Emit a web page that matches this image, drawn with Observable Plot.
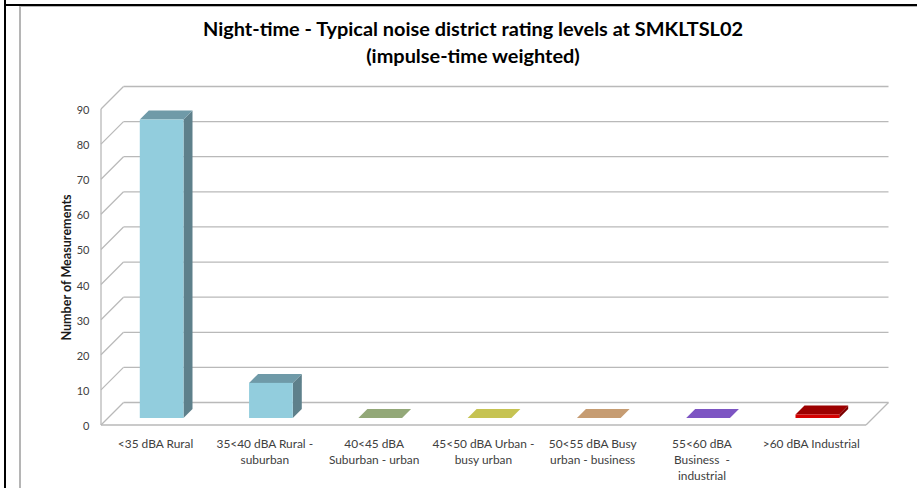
<!DOCTYPE html>
<html>
<head>
<meta charset="utf-8">
<script src="https://cdn.jsdelivr.net/npm/d3@7"></script>
<script src="https://cdn.jsdelivr.net/npm/@observablehq/plot@0.6"></script>
<style>
html,body{margin:0;padding:0;background:#fff;overflow:hidden}
#page{position:relative;width:917px;height:488px;overflow:hidden;font-family:Lato,"Open Sans",sans-serif}
.edge{position:absolute}
#title{position:absolute;left:0;top:0;width:946px;height:70px;text-align:center;font-weight:700;font-size:19.9px;line-height:27px;color:#000;padding-top:15px;box-sizing:border-box}
#chart{position:absolute;left:0;top:70px}
</style>
</head>
<body>
<div id="page">
  <div class="edge" style="left:4px;top:0;width:2px;height:488px;background:#000"></div>
  <div class="edge" style="left:4px;top:4px;width:913px;height:2px;background:#000"></div>
  <div class="edge" style="left:19px;top:6px;width:898px;height:1px;background:#b5b5b5"></div>
  <div class="edge" style="left:19px;top:6px;width:1.5px;height:482px;background:#b5b5b5"></div>
  <div id="title">Night-time - Typical noise district rating levels at SMKLTSL02<br>(impulse-time weighted)</div>
  <div id="chart"></div>
</div>
<script>
const categories = ["<35 dBA Rural", "35<40 dBA Rural -\nsuburban", "40<45 dBA\nSuburban - urban", "45<50 dBA Urban -\nbusy urban", "50<55 dBA Busy\nurban - business", "55<60 dBA\nBusiness  -\nindustrial", ">60 dBA Industrial"];
const measurements = [85, 10, 0, 0, 0, 0, 1];
const frontColors = ["#92cddd", "#92cddd", "#8fa671", "#c4c24f", "#c49a6c", "#7a52c0", "#d40000"];
const topColors = ["#6f9aa8", "#6f9aa8", "#93a878", "#c6c352", "#c69c72", "#7d55c3", "#9c0000"];
const sideColor = ["#5e808b", "#5e808b", "#7d8e63", "#a5a343", "#a5825d", "#6845a3", "#7d0000"];
const yTicks = [0, 10, 20, 30, 40, 50, 60, 70, 80, 90];
const rows = categories.map((c, i) => ({category: c, value: measurements[i], front: frontColors[i], top: topColors[i], side: sideColor[i]}));

const gridColor = "#b9b9b9";
const wallDepth = 22.5;       // px of the oblique 3D wall
const barLift = 7;            // bars stand this far back on the floor
const barDepth = 9;           // px of the bar's own oblique depth
const wallLeft = 101, floorRight = 866;

function svgEl(name, attrs, parent) {
  const e = document.createElementNS("http://www.w3.org/2000/svg", name);
  for (const k in attrs) e.setAttribute(k, attrs[k]);
  parent.appendChild(e);
  return e;
}

function walls(index, {y}) {
  const g = document.createElementNS("http://www.w3.org/2000/svg", "g");
  g.setAttribute("aria-label", "walls");
  const line = (x1, y1, x2, y2) => svgEl("line", {x1, y1, x2, y2, stroke: gridColor, "stroke-width": 1.3}, g);
  for (const t of yTicks) {
    line(wallLeft, y(t), wallLeft + wallDepth, y(t) - wallDepth);
    line(wallLeft + wallDepth, y(t) - wallDepth, floorRight + wallDepth, y(t) - wallDepth);
  }
  line(wallLeft, y(0), wallLeft, y(90));
  line(wallLeft, y(0), floorRight, y(0));
  line(floorRight, y(0), floorRight + wallDepth, y(0) - wallDepth);
  return g;
}

function barFaces(index, {x, y}) {
  const g = document.createElementNS("http://www.w3.org/2000/svg", "g");
  g.setAttribute("aria-label", "bar faces");
  const w = (x(categories[1]) - x(categories[0])) * 0.4;
  const poly = (pts, fill) => svgEl("polygon", {points: pts.map(p => p.join(",")).join(" "), fill}, g);
  for (const r of rows) {
    const x0 = x(r.category), x1 = x0 + w;
    const yb = y(0) - barLift, yt = y(r.value) - barLift;
    poly([[x1, yb], [x1 + barDepth, yb - barDepth], [x1 + barDepth, yt - barDepth], [x1, yt]], r.side);
    poly([[x0, yt], [x1, yt], [x1 + barDepth, yt - barDepth], [x0 + barDepth, yt - barDepth]], r.top);
  }
  return g;
}

const chart = Plot.plot({
  width: 917,
  height: 418,
  marginTop: 39,
  marginBottom: 63,
  marginLeft: 107,
  marginRight: 45,
  style: {fontFamily: "Lato, 'Open Sans', sans-serif", background: "transparent", overflow: "visible"},
  x: {domain: categories, paddingInner: 0.6, paddingOuter: 0.3, round: false, label: null},
  y: {domain: [0, 90], ticks: yTicks, label: null},
  marks: [
    walls,
    barFaces,
    Plot.barY(rows, {x: "category", y: "value", fill: "front", dy: -barLift}),
    Plot.axisY({ticks: yTicks, tickSize: 0, tickPadding: 18, dy: 1, label: null, fontSize: 11, fill: "#404040"}),
    Plot.axisX({tickSize: 0, tickPadding: 11, label: null, fontSize: 11.9, lineHeight: 1.34, dx: -6.6, fill: "#404040", textOverflow: null, lineWidth: Infinity}),
    Plot.text(["Number of Measurements"], {frameAnchor: "left", textAnchor: "middle", rotate: -90, dx: -41, fontWeight: 700, fontSize: 12.6, fill: "#1a1a1a"})
  ]
});
document.getElementById("chart").appendChild(chart);
</script>
</body>
</html>
